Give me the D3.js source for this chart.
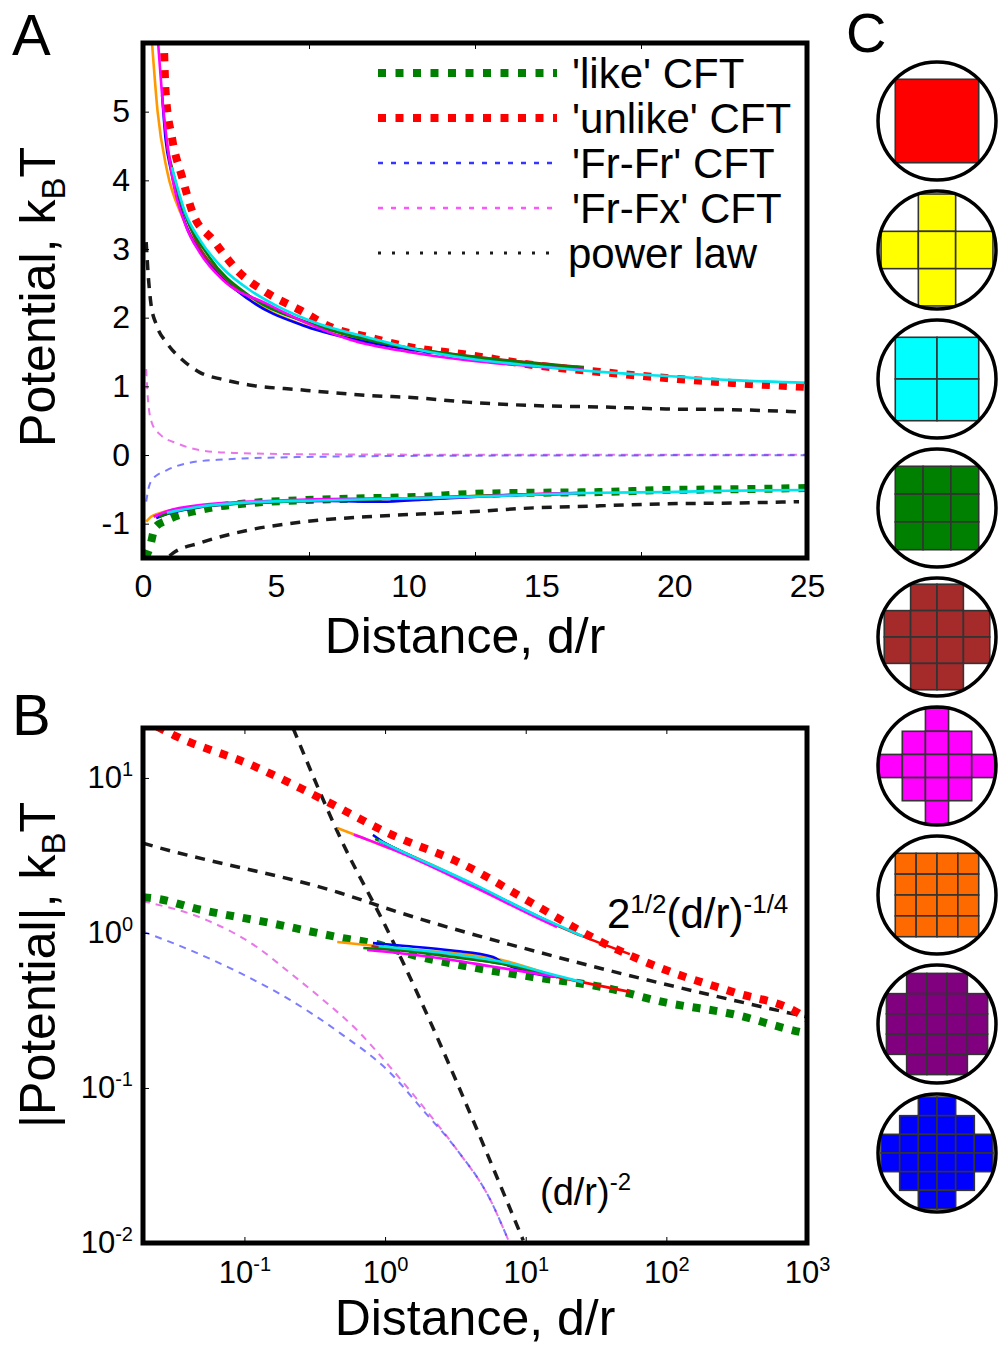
<!DOCTYPE html>
<html>
<head>
<meta charset="utf-8">
<script src="https://cdn.jsdelivr.net/npm/d3@7"></script>
<style>
  body { margin: 0; background: #fff; }
  text { font-family: Arial, "Liberation Sans", Helvetica, sans-serif; fill: #000; }
</style>
</head>
<body>
<div id="chart"></div>
<script>
// ---------- data ----------
// panel A : potential vs distance d/r   [d, value]
var unlikeA = [[0.78,6.1],[0.85,5.3],[1.1,4.6],[1.47,4.05],[1.88,3.52],[2.64,3.13],[3.65,2.65],[4.67,2.36],[5.91,2.11],[7.15,1.85],[8.43,1.72],[10.05,1.57],[12.2,1.46],[14.7,1.31],[17.2,1.21],[19.7,1.12],[22.2,1.05],[25,0.99]];
var likeA = [[0.1,-1.5],[0.26,-1.34],[0.45,-1.06],[0.9,-0.95],[2.15,-0.80],[4.03,-0.70],[5.9,-0.66],[8.4,-0.63],[10.4,-0.61],[12.2,-0.57],[14.7,-0.55],[17.2,-0.54],[19.7,-0.51],[22.2,-0.50],[25,-0.48]];
var frfrA = [[0.12,-0.68],[0.2,-0.5],[0.34,-0.36],[0.9,-0.22],[1.66,-0.12],[2.8,-0.07],[5.9,-0.03],[12,-0.01],[25,-0.004]];
var frfxA = [[0.12,1.25],[0.2,0.75],[0.35,0.45],[0.64,0.3],[1.28,0.17],[2.15,0.07],[3.4,0.03],[6,0.012],[12,0.004],[25,0.002]];
var powPosA = [[0.12,3.1],[0.2,2.6],[0.3,2.2],[0.5,1.9],[0.9,1.63],[1.5,1.38],[2.15,1.2],[3,1.1],[4,1.02],[5.9,0.95],[8.4,0.87],[10.4,0.83],[12.2,0.77],[14.7,0.72],[17.2,0.70],[19.7,0.67],[22.2,0.66],[24.7,0.63]];
var powNegA = [[1.0,-1.47],[1.13,-1.43],[2.15,-1.28],[4.03,-1.09],[5.9,-0.98],[8.4,-0.90],[10.4,-0.86],[12.2,-0.83],[14.7,-0.77],[17.2,-0.74],[19.7,-0.71],[22.2,-0.70],[24.7,-0.68]];

// simulated shapes (solid lines), panel A
var simColors = ["#ff9900", "#0000ff", "#a52a2a", "#008000", "#ff00ff", "#00e5ee"];
var simPosA = [
  [[0.34,6.0],[0.55,5.0],[0.9,4.15],[1.5,3.45],[2.5,2.78],[4,2.27],[6,1.9],[8,1.69],[10,1.55],[12,1.45],[14,1.36],[16.6,1.27]],
  [[0.72,5.24],[0.85,4.6],[1.05,4.15],[1.5,3.48],[2.5,2.8],[4,2.26],[6,1.89],[8,1.68],[10,1.54],[12,1.44],[14,1.35],[16.6,1.26]],
  [[0.9,4.5],[1.3,3.85],[2,3.12],[3,2.62],[5,2.12],[7,1.83],[10,1.56],[13,1.41],[16.6,1.28]],
  [[1.0,4.3],[1.5,3.6],[2.5,2.88],[4,2.32],[6,1.95],[8,1.72],[10,1.56],[12,1.45],[14,1.36],[16.6,1.27]],
  [[0.57,6.0],[0.75,5.1],[1.1,4.05],[1.6,3.35],[2.15,2.94],[3,2.55],[4.67,2.2],[6,1.95],[7.8,1.68],[10,1.5],[12.2,1.38],[14.7,1.29],[16.6,1.24]],
  [[1.09,4.19],[1.6,3.52],[2.15,3.13],[3,2.72],[4.03,2.4],[5,2.18],[6.55,1.92],[8.4,1.72],[10.4,1.53],[12.2,1.41],[14.7,1.3],[17.2,1.21],[19.7,1.15],[22.2,1.09],[25,1.05]]
];
var simNegA = [
  [[0.12,-0.97],[0.3,-0.9],[0.6,-0.85],[1,-0.81],[2,-0.75],[4,-0.69],[7,-0.66],[10,-0.63],[13,-0.59],[16.6,-0.55]],
  [[0.5,-0.92],[0.9,-0.86],[2,-0.77],[4.6,-0.69],[7,-0.67],[9,-0.68],[10.5,-0.65],[13,-0.6],[16.6,-0.56]],
  [[0.7,-0.88],[1.2,-0.82],[2.5,-0.74],[5,-0.68],[8,-0.65],[11,-0.62],[14,-0.58],[16.6,-0.555]],
  [[0.6,-0.9],[1,-0.84],[2,-0.76],[4,-0.7],[7,-0.66],[10,-0.63],[13,-0.59],[16.6,-0.56]],
  [[0.4,-0.9],[0.9,-0.82],[2.15,-0.73],[4.67,-0.67],[7,-0.64],[10,-0.63],[12.2,-0.61],[14.7,-0.57],[16.6,-0.55]],
  [[0.9,-0.84],[2,-0.76],[4,-0.69],[7,-0.66],[10,-0.63],[13,-0.6],[17.2,-0.55],[19.7,-0.54],[22,-0.52],[25,-0.51]]
];

// panel B : |potential| vs d/r, log-log
var unlikeB = [[0.024,21.4],[0.031,19.0],[0.115,12.0],[0.43,6.7],[1.0,4.5],[3.8,2.7],[11.2,1.55],[34,0.88],[100,0.575],[295,0.417],[890,0.30],[1000,0.28]];
var likeB = [[0.019,1.7],[0.022,1.68],[0.049,1.41],[0.145,1.17],[0.46,0.94],[1,0.82],[1.28,0.76],[3.8,0.61],[11.2,0.52],[34,0.45],[100,0.355],[295,0.30],[890,0.23],[1000,0.225]];
var frfxB = [[0.019,1.6],[0.054,1.21],[0.123,0.81],[0.211,0.552],[0.363,0.37],[0.63,0.237],[1.09,0.136],[1.86,0.076],[3.24,0.040],[5.6,0.019],[7.5,0.0105]];
var frfrB = [[0.019,1.02],[0.041,0.776],[0.093,0.552],[0.211,0.37],[0.479,0.226],[1.09,0.125],[1.86,0.072],[3.24,0.040],[5.6,0.019],[7.5,0.0105]];
var powShallowB = [[0.019,3.8],[0.021,3.7],[0.48,1.81],[1.28,1.35],[16.6,0.70],[1000,0.287]];
var powSteepB = [[0.222,20.9],[0.5,3.8],[1.0,1.12],[9.6,0.0104]];
var simUpB = [
  [[0.46,4.75],[0.7,4.1],[1.0,3.6],[1.28,3.35],[4.2,2.05],[12.6,1.26],[16.7,1.12]],
  [[0.82,4.29],[1.0,3.8],[1.28,3.4],[4.2,2.06],[12.6,1.26],[16.7,1.12]],
  [[0.9,3.95],[1.28,3.38],[4.2,2.04],[12.6,1.25],[16.7,1.11]],
  [[0.85,4.05],[1.28,3.38],[4.2,2.05],[12.6,1.26],[16.7,1.12]],
  [[0.6,4.3],[0.75,4.0],[1.28,3.3],[4.2,2.0],[12.6,1.23],[16.7,1.09]],
  [[0.9,3.95],[1.28,3.4],[4.2,2.08],[12.6,1.27],[16.7,1.13],[25.6,0.95]]
];
var simLowB = [
  [[0.457,0.875],[0.8,0.83],[1.28,0.79],[5.86,0.69],[16.7,0.52]],
  [[0.82,0.86],[1.28,0.83],[3,0.77],[5.86,0.70],[6.9,0.64],[16.7,0.52]],
  [[0.8,0.82],[1.28,0.78],[3,0.71],[6.9,0.63],[16.7,0.52]],
  [[0.7,0.8],[1.28,0.77],[3,0.7],[6.9,0.63],[16.7,0.52]],
  [[0.745,0.776],[1.28,0.74],[3,0.67],[5.6,0.61],[16.7,0.52]],
  [[0.9,0.82],[3,0.73],[6.9,0.65],[16.7,0.53],[25.6,0.48]]
];
var simRedB = [[[12.6,1.25],[25.6,0.95],[55,0.73]], [[16.7,0.52],[25.6,0.48],[55,0.417]]];

// ticks
var xTicksA = [0, 5, 10, 15, 20, 25];
var xMarksA = [6.25, 12.5, 18.75];
var yTicksA = [-1, 0, 1, 2, 3, 4, 5];
var xTicksB = [0.1, 1, 10, 100, 1000];
var yTicksB = [0.01, 0.1, 1, 10];

// legend
var legendLabels = ["'like' CFT", "'unlike' CFT", "'Fr-Fr' CFT", "'Fr-Fx' CFT", "power law"];

// panel C : shapes (cells on a grid), colours match the simulated curves
var shapeColors = ["#ff0000", "#ffff00", "#00ffff", "#008000", "#a52a2a", "#ff00ff", "#ff6a00", "#800080", "#0000ff"];
var shapeMasks = [
  ["1"],
  ["010", "111", "010"],
  ["11", "11"],
  ["111", "111", "111"],
  ["0110", "1111", "1111", "0110"],
  ["00100", "01110", "11111", "01110", "00100"],
  ["1111", "1111", "1111", "1111"],
  ["01110", "11111", "11111", "11111", "01110"],
  ["001100", "011110", "111111", "111111", "011110", "001100"]
];

// ---------- styles ----------
var st = {
  like:   {stroke: "#008000", width: 8, dash: "8,9"},
  unlike: {stroke: "#ff0000", width: 8, dash: "8,9"},
  frfr:   {stroke: "#3535ff", width: 2, dash: "7,6", opacity: 0.65},
  frfx:   {stroke: "#e455e4", width: 2, dash: "7,6", opacity: 0.8},
  pow:    {stroke: "#1a1a1a", width: 3.5, dash: "10,8"}
};
var legendStyles = [
  {stroke: "#008000", width: 8, dash: "8,9.5"},
  {stroke: "#ff0000", width: 8, dash: "8,9.5"},
  {stroke: "#3535ff", width: 2.5, dash: "5,8"},
  {stroke: "#ff55ff", width: 2.5, dash: "5,8"},
  {stroke: "#1a1a1a", width: 3, dash: "3,11"}
];

var W = 1000, H = 1351;
var svg = d3.select("#chart").append("svg")
    .attr("width", W)
    .attr("height", H);

function drawLine(g, data, line, s) {
  g.append("path")
    .datum(data)
    .attr("d", line)
    .attr("fill", "none")
    .attr("stroke", s.stroke)
    .attr("stroke-width", s.width)
    .attr("stroke-dasharray", s.dash || null)
    .attr("stroke-opacity", s.opacity || 1)
    .attr("stroke-linejoin", "round");
}

function fontAxis(g, size) {
  g.attr("font-family", null).attr("font-size", size);
  g.select(".domain").remove();
}

// ================= panel A =================
var A = {left: 143, top: 43, right: 807, bottom: 558};
var xA = d3.scaleLinear().domain([0, 25]).range([A.left, A.right]);
var yA = d3.scaleLinear().domain([-1.5, 6]).range([A.bottom, A.top]);

svg.append("clipPath").attr("id", "clipA")
  .append("rect")
    .attr("x", A.left).attr("y", A.top)
    .attr("width", A.right - A.left).attr("height", A.bottom - A.top);

var lineA = d3.line()
    .x(function(d) { return xA(d[0]); })
    .y(function(d) { return yA(d[1]); })
    .curve(d3.curveMonotoneX);

var gA = svg.append("g").attr("clip-path", "url(#clipA)");
drawLine(gA, powPosA, lineA, st.pow);
drawLine(gA, powNegA, lineA, st.pow);
drawLine(gA, frfxA, lineA, st.frfx);
drawLine(gA, frfrA, lineA, st.frfr);
drawLine(gA, unlikeA, lineA, st.unlike);
drawLine(gA, likeA, lineA, st.like);
simPosA.forEach(function(d, i) { drawLine(gA, d, lineA, {stroke: simColors[i], width: 2.6}); });
simNegA.forEach(function(d, i) { drawLine(gA, d, lineA, {stroke: simColors[i], width: 2.6}); });

// tick marks (small, inward)
svg.append("g").attr("transform", "translate(0," + A.bottom + ")")
  .call(d3.axisBottom(xA).tickValues(xMarksA).tickSize(-6).tickFormat(""))
  .call(fontAxis, 10);
svg.append("g").attr("transform", "translate(0," + A.top + ")")
  .call(d3.axisTop(xA).tickValues(xMarksA).tickSize(-6).tickFormat(""))
  .call(fontAxis, 10);
svg.append("g").attr("transform", "translate(" + A.left + ",0)")
  .call(d3.axisLeft(yA).tickValues(yTicksA).tickSize(-6).tickFormat(""))
  .call(fontAxis, 10);

// tick labels (plain hyphen for the minus sign, as in the figure)
var plain = function(d) { return String(d); };
svg.append("g").attr("transform", "translate(0," + A.bottom + ")")
  .call(d3.axisBottom(xA).tickValues(xTicksA).tickSize(0).tickPadding(16).tickFormat(plain))
  .call(fontAxis, 32);
svg.append("g").attr("transform", "translate(" + A.left + ",0)")
  .call(d3.axisLeft(yA).tickValues(yTicksA).tickSize(0).tickPadding(13).tickFormat(plain))
  .call(fontAxis, 32);

svg.append("rect")
  .attr("x", A.left).attr("y", A.top)
  .attr("width", A.right - A.left).attr("height", A.bottom - A.top)
  .attr("fill", "none").attr("stroke", "#000").attr("stroke-width", 5);

// legend
var leg = svg.append("g");
legendLabels.forEach(function(lab, i) {
  var ly = 73 + i * 45;
  var s = legendStyles[i];
  leg.append("line")
    .attr("x1", 378).attr("x2", 557).attr("y1", ly).attr("y2", ly)
    .attr("stroke", s.stroke).attr("stroke-width", s.width)
    .attr("stroke-dasharray", s.dash);
  leg.append("text")
    .attr("x", i == 4 ? 568 : 572).attr("y", ly + 15)
    .style("font-size", "42px")
    .text(lab);
});

// titles
svg.append("text")
  .attr("x", 465).attr("y", 653)
  .attr("text-anchor", "middle")
  .style("font-size", "50px")
  .text("Distance, d/r");

var tA = svg.append("text")
  .attr("transform", "translate(55,297) rotate(-90)")
  .attr("text-anchor", "middle")
  .style("font-size", "50px");
tA.append("tspan").text("Potential, k");
tA.append("tspan").attr("dy", 10).style("font-size", "33px").text("B");
tA.append("tspan").attr("dy", -10).text("T");

svg.append("text").attr("x", 12).attr("y", 55).style("font-size", "58px").text("A");

// ================= panel B =================
var B = {left: 143, top: 728, right: 807, bottom: 1243};
var xB = d3.scaleLog().domain([0.019, 1000]).range([B.left, B.right]);
var yB = d3.scaleLog().domain([0.01, 21]).range([B.bottom, B.top]);

svg.append("clipPath").attr("id", "clipB")
  .append("rect")
    .attr("x", B.left).attr("y", B.top)
    .attr("width", B.right - B.left).attr("height", B.bottom - B.top);

var lineB = d3.line()
    .x(function(d) { return xB(d[0]); })
    .y(function(d) { return yB(d[1]); })
    .curve(d3.curveMonotoneX);

var gB = svg.append("g").attr("clip-path", "url(#clipB)");
drawLine(gB, powShallowB, lineB, st.pow);
drawLine(gB, powSteepB, lineB, st.pow);
drawLine(gB, frfxB, lineB, st.frfx);
drawLine(gB, frfrB, lineB, st.frfr);
drawLine(gB, unlikeB, lineB, st.unlike);
drawLine(gB, likeB, lineB, st.like);
simRedB.forEach(function(d) { drawLine(gB, d, lineB, {stroke: "#ff0000", width: 2.6}); });
simUpB.forEach(function(d, i) { drawLine(gB, d, lineB, {stroke: simColors[i], width: 2.6}); });
simLowB.forEach(function(d, i) { drawLine(gB, d, lineB, {stroke: simColors[i], width: 2.6}); });

svg.append("g").attr("transform", "translate(0," + B.bottom + ")")
  .call(d3.axisBottom(xB).tickValues([0.1, 1, 10, 100]).tickSize(-6).tickFormat(""))
  .call(fontAxis, 10);
svg.append("g").attr("transform", "translate(0," + B.top + ")")
  .call(d3.axisTop(xB).tickValues([0.1, 1, 10, 100]).tickSize(-6).tickFormat(""))
  .call(fontAxis, 10);
svg.append("g").attr("transform", "translate(" + B.left + ",0)")
  .call(d3.axisLeft(yB).tickValues([0.1, 1, 10]).tickSize(-6).tickFormat(""))
  .call(fontAxis, 10);

function powerLabel(sel) {
  sel.each(function(d) {
    var t = d3.select(this).text(null);
    t.append("tspan").text("10");
    t.append("tspan").attr("dy", -12).style("font-size", "20px")
      .text(Math.round(Math.log10(d)));
  });
}

svg.append("g").attr("transform", "translate(0," + B.bottom + ")")
  .call(d3.axisBottom(xB).tickValues(xTicksB).tickSize(0).tickPadding(18))
  .call(fontAxis, 31)
  .selectAll(".tick text").call(powerLabel);
svg.append("g").attr("transform", "translate(" + B.left + ",0)")
  .call(d3.axisLeft(yB).tickValues(yTicksB).tickSize(0).tickPadding(10))
  .call(fontAxis, 31)
  .selectAll(".tick text").call(powerLabel);

svg.append("rect")
  .attr("x", B.left).attr("y", B.top)
  .attr("width", B.right - B.left).attr("height", B.bottom - B.top)
  .attr("fill", "none").attr("stroke", "#000").attr("stroke-width", 5);

// annotations
var an1 = svg.append("text").attr("x", 607).attr("y", 928).style("font-size", "42px");
an1.append("tspan").text("2");
an1.append("tspan").attr("dy", -15).style("font-size", "26px").text("1/2");
an1.append("tspan").attr("dy", 15).text("(d/r)");
an1.append("tspan").attr("dy", -15).style("font-size", "26px").text("-1/4");

var an2 = svg.append("text").attr("x", 540).attr("y", 1205).style("font-size", "38px");
an2.append("tspan").text("(d/r)");
an2.append("tspan").attr("dy", -15).style("font-size", "24px").text("-2");

svg.append("text")
  .attr("x", 475).attr("y", 1335)
  .attr("text-anchor", "middle")
  .style("font-size", "50px")
  .text("Distance, d/r");

var tB = svg.append("text")
  .attr("transform", "translate(55,965) rotate(-90)")
  .attr("text-anchor", "middle")
  .style("font-size", "50px");
tB.append("tspan").text("|Potential|, k");
tB.append("tspan").attr("dy", 10).style("font-size", "33px").text("B");
tB.append("tspan").attr("dy", -10).text("T");

svg.append("text").attr("x", 12).attr("y", 735).style("font-size", "58px").text("B");

// ================= panel C =================
svg.append("text").attr("x", 846).attr("y", 52).style("font-size", "56px").text("C");

var R = 59, cx = 937;
var yC = d3.scalePoint().domain(d3.range(shapeMasks.length)).range([121, 1153]);

shapeMasks.forEach(function(mask, i) {
  var n = mask.length;
  var cy = yC(i);
  // cell size so that the outermost corner touches the circle
  var far = 0;
  mask.forEach(function(row, r) {
    row.split("").forEach(function(c, k) {
      if (c !== "1") return;
      [[k, r], [k + 1, r], [k, r + 1], [k + 1, r + 1]].forEach(function(p) {
        far = Math.max(far, Math.hypot(p[0] - n / 2, p[1] - n / 2));
      });
    });
  });
  var size = n * R / far;
  var bx = d3.scaleBand().domain(d3.range(n)).range([cx - size / 2, cx + size / 2]);
  var by = d3.scaleBand().domain(d3.range(n)).range([cy - size / 2, cy + size / 2]);

  var g = svg.append("g");
  g.append("circle").attr("cx", cx).attr("cy", cy).attr("r", R).attr("fill", "#fff");
  var cells = [];
  mask.forEach(function(row, r) {
    row.split("").forEach(function(c, k) { if (c === "1") cells.push([k, r]); });
  });
  g.selectAll("rect").data(cells).enter().append("rect")
    .attr("x", function(d) { return bx(d[0]); })
    .attr("y", function(d) { return by(d[1]); })
    .attr("width", bx.bandwidth())
    .attr("height", by.bandwidth())
    .attr("fill", shapeColors[i])
    .attr("stroke", "#333")
    .attr("stroke-width", 1.6);
  g.append("circle").attr("cx", cx).attr("cy", cy).attr("r", R)
    .attr("fill", "none").attr("stroke", "#000").attr("stroke-width", 3.5);
});
</script>
</body>
</html>
